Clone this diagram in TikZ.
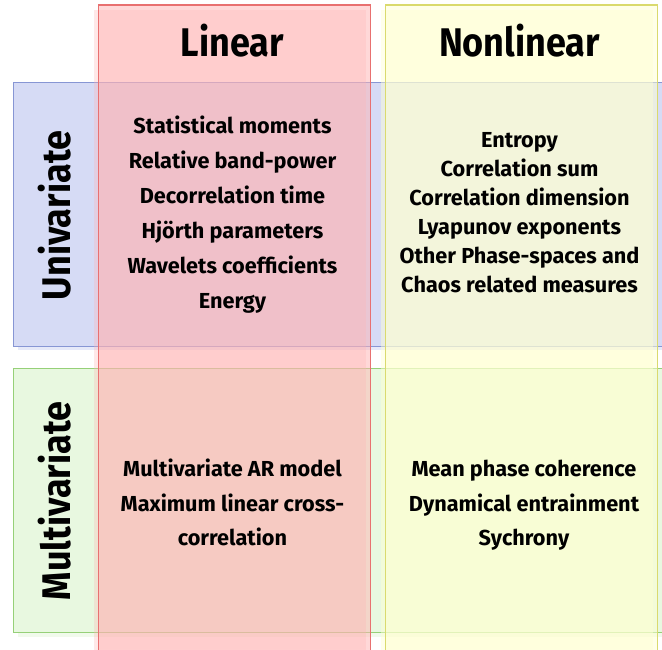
\documentclass[tikz,border=0pt]{standalone}
\usepackage{fontspec}
\setmainfont{Fira Sans}
\newfontfamily\headingfont{Fira Sans}[FakeStretch=0.9]
\begin{document}
\begin{tikzpicture}[x=1pt,y=-1pt,
  rowbox/.style={line width=1pt},
  colbox/.style={line width=1.2pt, fill opacity=0.5, draw opacity=1},
  head/.style={inner sep=0pt, anchor=base, font=\headingfont\fontsize{40}{40}\selectfont\bfseries},
  sidehead/.style={head, rotate=90},
  cell/.style={inner sep=0pt, align=center, font=\fontsize{21.7}{35}\selectfont\bfseries},
]
\definecolor{uniFill}{RGB}{214,219,245}
\definecolor{uniLine}{RGB}{135,150,212}
\definecolor{mulFill}{RGB}{232,248,224}
\definecolor{mulLine}{RGB}{150,208,120}
\definecolor{linFill}{RGB}{255,179,179}
\definecolor{linLine}{RGB}{232,112,112}
\definecolor{nonFill}{RGB}{255,255,210}
\definecolor{nonLine}{RGB}{218,218,110}

% page
\fill[white] (0,0) rectangle (662,649);
\useasboundingbox (0,0) rectangle (662,649);
\clip (0,0) rectangle (662,649);

% row bands with their drop shadows
\fill[uniFill, opacity=0.6] (18,86.5) rectangle (690,350);
\fill[mulFill, opacity=0.6] (18,372.3) rectangle (690,636.5);
\filldraw[rowbox, fill=uniFill, draw=uniLine] (13,82.5) rectangle (690,346);
\filldraw[rowbox, fill=mulFill, draw=mulLine] (13,368.3) rectangle (690,632.5);

% column bands with their drop shadows
\fill[linFill, opacity=0.3] (94,10) rectangle (366,700);
\fill[nonFill, opacity=0.45] (381.2,10) rectangle (653,700);
\filldraw[colbox, fill=linFill, draw=linLine] (98.3,5) rectangle (370.5,700);
\filldraw[colbox, fill=nonFill, draw=nonLine] (385.7,5) rectangle (657.3,700);

% headings
\node[head] (hLin) at (232.5,56) {Linear};
\node[head] (hNon) at (519.5,56) {Nonlinear};
\node[sidehead] (hUni) at (70,215.5) {Univariate};
\node[sidehead] (hMul) at (70,501) {Multivariate};

% cell contents
\node[cell] (cUL) at (232.5,214.5) {Statistical moments\\Relative band-power\\Decorrelation time\\Hjörth parameters\\Wavelets coefficients\\Energy};
\node[cell, font=\fontsize{21.7}{29}\selectfont\bfseries] (cUR) at (519.5,212.5) {Entropy\\Correlation sum\\Correlation dimension\\Lyapunov exponents\\Other Phase-spaces and\\Chaos related measures};
\node[cell, font=\fontsize{21.7}{34.5}\selectfont\bfseries] (cLL) at (232.5,502.5) {Multivariate AR model\\Maximum linear cross-\\correlation};
\node[cell, font=\fontsize{21.7}{34.5}\selectfont\bfseries] (cLR) at (524,505.5) {Mean phase coherence\\Dynamical entrainment\\Sychrony};
\end{tikzpicture}
\end{document}
